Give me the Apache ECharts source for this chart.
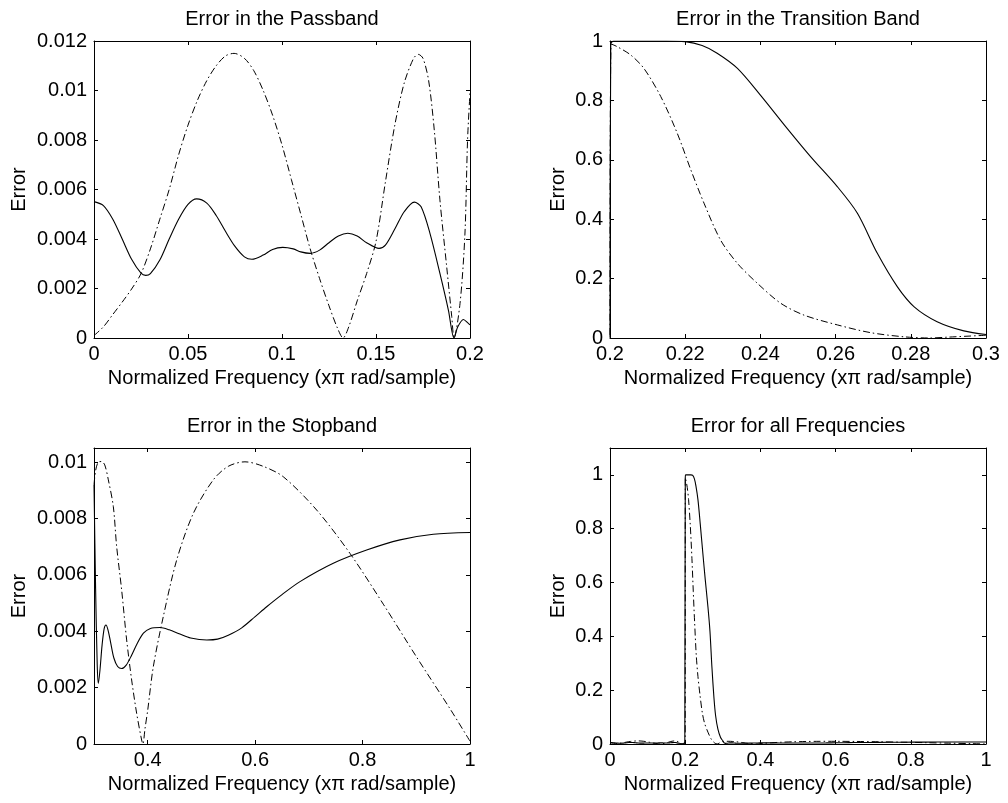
<!DOCTYPE html>
<html>
<head>
<meta charset="utf-8">
<script src="https://cdn.jsdelivr.net/npm/echarts@6/dist/echarts.min.js"></script>
<style>
html,body{margin:0;padding:0;background:#fff;}
#c{width:1008px;height:803px;}
</style>
</head>
<body>
<div id="c"></div>
<script>
// ---------- DATA ----------
const titles = ['Error in the Passband', 'Error in the Transition Band', 'Error in the Stopband', 'Error for all Frequencies'];
const xName = 'Normalized Frequency (x\u03c0 rad/sample)';
const yName = 'Error';

// Passband (0 .. 0.2)
const passSolid = [
  [0,0.00551],[0.005,0.00535],[0.010,0.00480],[0.015,0.00400],[0.020,0.00318],[0.025,0.00262],
  [0.0275,0.00253],[0.030,0.00260],[0.035,0.00315],[0.040,0.00400],[0.045,0.00480],[0.050,0.00540],
  [0.0546,0.00562],[0.060,0.00545],[0.065,0.00495],[0.070,0.00430],[0.075,0.00370],[0.080,0.00328],
  [0.084,0.00318],[0.090,0.00335],[0.095,0.00358],[0.1004,0.00366],[0.106,0.00360],[0.110,0.00348],
  [0.115,0.00342],[0.120,0.00355],[0.125,0.00385],[0.130,0.00412],[0.135,0.00423],[0.140,0.00412],
  [0.145,0.00385],[0.1516,0.00362],[0.155,0.00375],[0.160,0.00440],[0.165,0.00510],[0.1704,0.00549],
  [0.174,0.00530],[0.1787,0.00423],[0.184,0.00261],[0.1885,0.00113],[0.1915,0.0000],[0.1935,0.00045],
  [0.1965,0.00075],[0.199,0.00060],[0.2,0.00053]
];
const passDash = [
  [0,0.0001],[0.005,0.00045],[0.010,0.00095],[0.015,0.00145],[0.020,0.00198],[0.025,0.00260],
  [0.030,0.00360],[0.035,0.00480],[0.040,0.00600],[0.045,0.00740],[0.050,0.00860],[0.055,0.00960],
  [0.060,0.01040],[0.065,0.01100],[0.070,0.01140],[0.0745,0.01150],[0.080,0.01130],[0.085,0.01080],
  [0.090,0.01000],[0.095,0.00900],[0.100,0.00780],[0.105,0.00640],[0.110,0.00500],[0.115,0.00360],
  [0.120,0.00240],[0.125,0.00130],[0.1295,0.00040],[0.1325,0],[0.1355,0.00045],[0.140,0.00150],
  [0.145,0.00260],[0.150,0.00390],[0.155,0.00630],[0.160,0.00860],[0.165,0.01030],[0.170,0.01130],
  [0.1725,0.01146],[0.175,0.01130],[0.178,0.01040],[0.181,0.00840],[0.184,0.00558],[0.1876,0.00288],
  [0.1903,0.00086],[0.1915,0],[0.1947,0.00140],[0.1973,0.00420],[0.1987,0.00800],[0.2,0.00990]
];

// Transition band (0.2 .. 0.3)
const transSolid = [
  [0.2,0.0005],[0.2002,0.99],[0.201,1.0],[0.21,1.0],[0.215,1.0],[0.22,0.998],[0.2245,0.985],
  [0.2285,0.959],[0.2339,0.908],[0.24,0.818],[0.2471,0.706],[0.2534,0.61],[0.2605,0.509],
  [0.2658,0.42],[0.2711,0.285],[0.2764,0.173],[0.2809,0.105],[0.287,0.055],[0.2941,0.024],[0.3,0.012]
];
const transDash = [
  [0.2,0.0099],[0.2003,0.99],[0.2019,0.981],[0.2055,0.953],[0.209,0.908],[0.2135,0.813],
  [0.2179,0.689],[0.2215,0.566],[0.225,0.454],[0.2294,0.33],[0.2339,0.251],[0.2392,0.184],
  [0.2454,0.117],[0.2516,0.077],[0.2605,0.044],[0.2693,0.018],[0.2782,0.004],[0.285,0.0],
  [0.29,0.003],[0.3,0.0092]
];

// Stopband (0.3 .. 1)
const stopSolid = [
  [0.3,0.0092],[0.303,0.0055],[0.306,0.0028],[0.308,0.00215],[0.311,0.0026],[0.315,0.0035],
  [0.319,0.0041],[0.3223,0.00422],[0.326,0.00405],[0.331,0.0036],[0.337,0.00305],[0.344,0.00275],
  [0.3515,0.00268],[0.36,0.0028],[0.37,0.00315],[0.38,0.00355],[0.392,0.00393],[0.405,0.0041],
  [0.423,0.00413],[0.44,0.00405],[0.46,0.0039],[0.48,0.00376],[0.51,0.00369],[0.53,0.00372],
  [0.55,0.00386],[0.575,0.00412],[0.6,0.00452],[0.6215,0.00487],[0.65,0.0053],[0.6835,0.00576],
  [0.7455,0.00641],[0.8076,0.00688],[0.8697,0.00724],[0.9317,0.00744],[1.0,0.0075]
];
const stopDash = [
  [0.3,0.0092],[0.303,0.0097],[0.308,0.0100],[0.314,0.01002],[0.32,0.0099],[0.3267,0.00937],
  [0.336,0.00842],[0.3422,0.0070],[0.3515,0.00546],[0.3608,0.00369],[0.3701,0.00227],[0.3794,0.00109],
  [0.3887,0.00014],[0.391,0],[0.395,0.00055],[0.40,0.0012],[0.4104,0.00274],[0.429,0.00452],
  [0.454,0.00653],[0.4849,0.00818],[0.5221,0.00937],[0.55,0.00985],[0.5811,0.01001],[0.615,0.00985],
  [0.6524,0.00948],[0.7145,0.0083],[0.7766,0.00676],[0.8386,0.00496],[0.9007,0.00308],[0.9628,0.00125],
  [1.0,0.0001]
];

// Tick values
const xTicks = [[0,0.05,0.1,0.15,0.2],[0.2,0.22,0.24,0.26,0.28,0.3],[0.4,0.6,0.8,1],[0,0.2,0.4,0.6,0.8,1]];
const yTicks = [[0,0.002,0.004,0.006,0.008,0.01,0.012],[0,0.2,0.4,0.6,0.8,1],[0,0.002,0.004,0.006,0.008,0.01],[0,0.2,0.4,0.6,0.8,1]];
const xRange = [[0,0.2],[0.2,0.3],[0.3,1],[0,1]];
const yRange = [[0,0.012],[0,1],[0,0.0105],[0,1.1]];

// ---------- CHART ----------
const FONT = "'Liberation Sans', Arial, Helvetica, sans-serif";
const FS = 20;
const grids = [
  {left:94, top:41, width:376, height:297},
  {left:610, top:41, width:376, height:297},
  {left:94, top:448, width:376, height:296},
  {left:610, top:448, width:376, height:296}
];
const yNameGap = [65, 42, 65, 42];

const allSolid = passSolid.concat(transSolid.slice(1), stopSolid.slice(1));
const allDash = passDash.concat(transDash.slice(1), stopDash.slice(1));
const seriesData = [[passSolid, passDash],[transSolid, transDash],[stopSolid, stopDash],[allSolid, allDash]];

const lineAx = {show:true, onZero:false, lineStyle:{color:'#000', width:1}};
const xAxes = [], yAxes = [], series = [], titleOpts = [];
grids.forEach((g, i) => {
  xAxes.push({
    type:'value', gridIndex:i, position:'bottom', min:xRange[i][0], max:xRange[i][1],
    axisLine:lineAx, splitLine:{show:false},
    axisTick:{show:true, inside:true, length:4, lineStyle:{color:'#000'}, customValues:xTicks[i]},
    axisLabel:{show:true, customValues:xTicks[i], color:'#000', fontFamily:FONT, fontSize:FS, margin:6},
    name:xName, nameLocation:'middle', nameGap:30,
    nameTextStyle:{color:'#000', fontFamily:FONT, fontSize:FS}
  });
  xAxes.push({
    type:'value', gridIndex:i, position:'top', min:xRange[i][0], max:xRange[i][1],
    axisLine:lineAx, splitLine:{show:false},
    axisTick:{show:true, inside:true, length:4, lineStyle:{color:'#000'}, customValues:xTicks[i]},
    axisLabel:{show:false}
  });
  yAxes.push({
    type:'value', gridIndex:i, position:'left', min:yRange[i][0], max:yRange[i][1],
    axisLine:lineAx, splitLine:{show:false},
    axisTick:{show:true, inside:true, length:4, lineStyle:{color:'#000'}, customValues:yTicks[i]},
    axisLabel:{show:true, customValues:yTicks[i], color:'#000', fontFamily:FONT, fontSize:FS, margin:7},
    name:yName, nameLocation:'middle', nameGap:yNameGap[i], nameRotate:90,
    nameTextStyle:{color:'#000', fontFamily:FONT, fontSize:FS}
  });
  yAxes.push({
    type:'value', gridIndex:i, position:'right', min:yRange[i][0], max:yRange[i][1],
    axisLine:lineAx, splitLine:{show:false},
    axisTick:{show:true, inside:true, length:4, lineStyle:{color:'#000'}, customValues:yTicks[i]},
    axisLabel:{show:false}
  });
  titleOpts.push({
    text:titles[i], left:g.left + g.width/2, top:g.top - 32, textAlign:'center', padding:0,
    textStyle:{color:'#000', fontFamily:FONT, fontSize:FS, fontWeight:'normal'}
  });
  series.push({
    type:'line', xAxisIndex:2*i, yAxisIndex:2*i, data:seriesData[i][0], showSymbol:false,
    smooth:0.3, lineStyle:{color:'#000', width:1.1}, animation:false, z:3
  });
  series.push({
    type:'line', xAxisIndex:2*i, yAxisIndex:2*i, data:seriesData[i][1], showSymbol:false,
    smooth:0.3, lineStyle:{color:'#000', width:1, type:[7,3,1.5,3]}, animation:false, z:2
  });
});

const chart = echarts.init(document.getElementById('c'), null, {renderer:'canvas'});
chart.setOption({
  animation:false,
  backgroundColor:'#fff',
  title:titleOpts,
  grid:grids,
  xAxis:xAxes,
  yAxis:yAxes,
  series:series
});
</script>
</body>
</html>
